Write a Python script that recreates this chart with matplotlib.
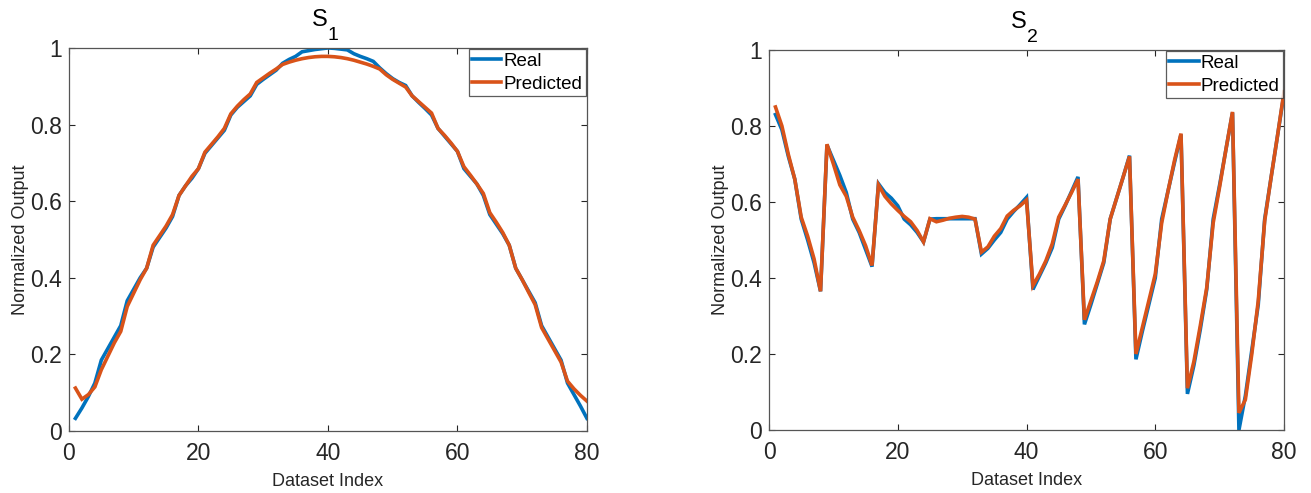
import matplotlib
matplotlib.use("Agg")
import matplotlib.pyplot as plt
import numpy as np

plt.rcParams['font.family'] = ['Liberation Sans', 'DejaVu Sans']

index = list(range(1, 81))

s1_real = [0.033, 0.06, 0.09, 0.125, 0.185, 0.215, 0.245, 0.275, 0.34, 0.37,
           0.40, 0.425, 0.48, 0.505, 0.53, 0.56, 0.615, 0.64, 0.66, 0.685,
           0.725, 0.745, 0.765, 0.785, 0.825, 0.845, 0.86, 0.875, 0.905, 0.918,
           0.93, 0.942, 0.96, 0.97, 0.978, 0.99, 0.993, 0.996, 0.998, 1.0,
           0.999, 0.997, 0.995, 0.985, 0.978, 0.972, 0.965, 0.948, 0.933, 0.92,
           0.91, 0.902, 0.875, 0.858, 0.842, 0.825, 0.79, 0.77, 0.75, 0.73,
           0.685, 0.665, 0.645, 0.615, 0.565, 0.54, 0.515, 0.485, 0.425, 0.395,
           0.365, 0.335, 0.275, 0.245, 0.215, 0.185, 0.125, 0.095, 0.065, 0.033]

s1_pred = [0.112, 0.083, 0.095, 0.115, 0.16, 0.195, 0.23, 0.26, 0.325, 0.36,
           0.395, 0.425, 0.485, 0.51, 0.535, 0.565, 0.615, 0.64, 0.665, 0.685,
           0.728, 0.748, 0.768, 0.79, 0.828, 0.848, 0.865, 0.88, 0.91, 0.922,
           0.934, 0.945, 0.957, 0.963, 0.968, 0.972, 0.975, 0.977, 0.978, 0.978,
           0.977, 0.975, 0.972, 0.968, 0.963, 0.958, 0.952, 0.945, 0.93, 0.918,
           0.908, 0.898, 0.875, 0.86, 0.845, 0.83, 0.79, 0.772, 0.752, 0.73,
           0.69, 0.668, 0.645, 0.62, 0.57, 0.545, 0.518, 0.485, 0.425, 0.395,
           0.362, 0.33, 0.27, 0.24, 0.21, 0.18, 0.13, 0.11, 0.093, 0.078]

s2_real = [0.83, 0.79, 0.72, 0.66, 0.555, 0.50, 0.44, 0.365,
           0.75, 0.71, 0.67, 0.625, 0.555, 0.52, 0.475, 0.43,
           0.648, 0.625, 0.61, 0.59, 0.555, 0.54, 0.52, 0.495,
           0.555, 0.556, 0.556, 0.556, 0.556, 0.556, 0.556, 0.556,
           0.463, 0.478, 0.50, 0.52, 0.555, 0.575, 0.593, 0.612,
           0.37, 0.405, 0.44, 0.48, 0.555, 0.59, 0.628, 0.666,
           0.278, 0.33, 0.385, 0.44, 0.555, 0.61, 0.665, 0.722,
           0.186, 0.26, 0.33, 0.40, 0.555, 0.63, 0.705, 0.778,
           0.095, 0.17, 0.265, 0.37, 0.555, 0.645, 0.74, 0.835,
           0.0, 0.09, 0.21, 0.33, 0.555, 0.665, 0.775, 0.885]

s2_pred = [0.85, 0.80, 0.725, 0.66, 0.56, 0.51, 0.45, 0.365,
           0.752, 0.70, 0.645, 0.615, 0.56, 0.525, 0.485, 0.433,
           0.645, 0.615, 0.595, 0.578, 0.562, 0.548, 0.525, 0.495,
           0.556, 0.548, 0.552, 0.557, 0.56, 0.562, 0.56, 0.555,
           0.468, 0.482, 0.51, 0.53, 0.563, 0.578, 0.59, 0.605,
           0.38, 0.41, 0.445, 0.49, 0.56, 0.592, 0.625, 0.66,
           0.29, 0.34, 0.39, 0.445, 0.555, 0.61, 0.665, 0.72,
           0.20, 0.27, 0.34, 0.41, 0.545, 0.63, 0.71, 0.78,
           0.11, 0.18, 0.275, 0.375, 0.545, 0.64, 0.74, 0.837,
           0.045, 0.08, 0.20, 0.34, 0.55, 0.665, 0.775, 0.89]

title_main = 'S'
title_subs = ['1', '2']
xticks = [0, 20, 40, 60, 80]
yticks = [0, 0.2, 0.4, 0.6, 0.8, 1]
ytick_labels = ['0', '0.2', '0.4', '0.6', '0.8', '1']

blue = '#0072BD'
orange = '#D95319'
axcol = '#262626'

fig = plt.figure(figsize=(13.11, 4.93), dpi=100)
positions = [[0.0526, 0.1258, 0.3951, 0.7769], [0.5866, 0.1278, 0.3928, 0.7708]]
series = [(s1_real, s1_pred), (s2_real, s2_pred)]

for pos, (real, pred), sub in zip(positions, series, title_subs):
    ax = fig.add_axes(pos)
    ax.plot(index, real, color=blue, lw=2.6, label='Real', solid_joinstyle='miter')
    ax.plot(index, pred, color=orange, lw=2.6, label='Predicted', solid_joinstyle='miter')
    ax.set_xlim(0, 80)
    ax.set_ylim(0, 1)
    ax.set_xticks(xticks)
    ax.set_yticks(yticks)
    ax.set_yticklabels(ytick_labels)
    ax.tick_params(direction='in', top=True, right=True, length=4, width=0.8,
                   labelsize=16.5, colors=axcol)
    ax.tick_params(axis='x', pad=8)
    ax.tick_params(axis='y', pad=5)
    for sp in ax.spines.values():
        sp.set_color('#555555')
        sp.set_linewidth(0.9)
    ax.set_xlabel('Dataset Index', fontsize=13, color=axcol, labelpad=6)
    ax.set_ylabel('Normalized Output', fontsize=13, color=axcol, labelpad=1)
    # title: S with lowered subscript
    ax.text(0.5, 1.045, title_main, transform=ax.transAxes, ha='right', va='bottom',
            fontsize=17, color='black')
    ax.text(0.5, 1.01, sub, transform=ax.transAxes, ha='left', va='bottom',
            fontsize=14, color='black')
    leg = ax.legend(loc='upper right', fontsize=13.5, frameon=True, fancybox=False,
                    borderaxespad=0.05, handlelength=1.55, handletextpad=0.1,
                    borderpad=0.2, labelspacing=0.3)
    leg.get_frame().set_edgecolor('#333333')
    leg.get_frame().set_linewidth(0.9)

fig.savefig('out.png', dpi=100, facecolor='white')
